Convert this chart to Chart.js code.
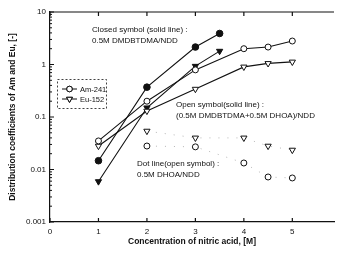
<!DOCTYPE html>
<html lang="en">
<head>
    <meta charset="UTF-8">
    <title>Distribution coefficients</title>
    <script src="https://cdn.jsdelivr.net/npm/chart.js"></script>
    <style>
        body {
            margin: 0;
            background: #fff;
        }
        #wrap {
            width: 339px;
            height: 255px;
        }
    </style>
</head>
<body>
    <div id="wrap"><canvas id="chart" width="339" height="255"></canvas></div>

    <script>
        // values
        const closedX = [1, 2, 3, 3.5];
        const amClosed = [0.0147, 0.37, 2.15, 3.9];
        const euClosed = [0.0059, 0.15, 0.93, 1.8];

        const openX = [1, 2, 3, 4, 4.5, 5];
        const amOpen = [0.035, 0.2, 0.79, 2.0, 2.15, 2.8];
        const euOpen = [0.028, 0.13, 0.34, 0.9, 1.05, 1.12];

        const dotX = [2, 3, 4, 4.5, 5];
        const amDot = [0.028, 0.027, 0.0133, 0.0072, 0.0069];
        const euDot = [0.054, 0.04, 0.04, 0.028, 0.0235];

        const xTicks = [0, 1, 2, 3, 4, 5];
        const yTickValues = [0.001, 0.01, 0.1, 1, 10];
        const yTickLabels = ['0.001', '0.01', '0.1', '1', '10'];

        const FONT = '"Liberation Sans", Arial, sans-serif';
        const INK = '#111';

        const pts = (xs, ys) => xs.map((x, i) => ({ x: x, y: ys[i] }));

        function series(label, xs, ys, style, filled, dotted) {
            return {
                label: label,
                data: pts(xs, ys),
                showLine: true,
                borderColor: dotted ? '#b5b5b5' : INK,
                borderWidth: dotted ? 1 : 1.1,
                borderDash: dotted ? [1, 8] : [],
                pointStyle: style,
                pointRotation: style === 'triangle' ? 180 : 0,
                pointRadius: style === 'triangle' ? 3.6 : (filled ? 3.3 : 3),
                pointBorderColor: INK,
                pointBorderWidth: 1,
                pointBackgroundColor: filled ? INK : '#fff'
            };
        }

        // frame, inward ticks, notes and legend box
        const decor = {
            id: 'decor',
            beforeDatasetsDraw(chart) {
                const { ctx, chartArea: a, scales: { x, y } } = chart;
                ctx.save();
                ctx.strokeStyle = INK;
                ctx.lineWidth = 1.2;
                ctx.beginPath();
                ctx.moveTo(a.left, a.top);
                ctx.lineTo(a.right, a.top);
                xTicks.forEach(v => {
                    const px = x.getPixelForValue(v);
                    ctx.moveTo(px, a.top);
                    ctx.lineTo(px, a.top + 4);
                    ctx.moveTo(px, a.bottom);
                    ctx.lineTo(px, a.bottom - 4);
                });
                ctx.stroke();
                ctx.lineWidth = 1;
                ctx.beginPath();
                for (let e = -3; e <= 1; e++) {
                    for (let m = 1; m < 10; m++) {
                        const v = m * Math.pow(10, e);
                        if (v > 10) break;
                        const py = y.getPixelForValue(v);
                        ctx.moveTo(a.left, py);
                        ctx.lineTo(a.left + (m === 1 ? 4 : 2), py);
                    }
                }
                ctx.stroke();
                ctx.restore();
            },
            afterDatasetsDraw(chart) {
                const ctx = chart.ctx;
                ctx.save();
                ctx.fillStyle = INK;
                ctx.font = '8px ' + FONT;
                ctx.textBaseline = 'middle';
                ctx.fillText('Closed symbol (solid line) :', 92, 30);
                ctx.fillText('0.5M DMDBTDMA/NDD', 92, 41);
                ctx.fillText('Open symbol(solid line) :', 176, 105);
                ctx.fillText('(0.5M DMDBTDMA+0.5M DHOA)/NDD', 176, 116);
                ctx.fillText('Dot line(open symbol) :', 137, 164);
                ctx.fillText('0.5M DHOA/NDD', 137, 175);

                // legend box
                ctx.strokeStyle = INK;
                ctx.lineWidth = 0.8;
                ctx.setLineDash([2, 2]);
                ctx.strokeRect(57.5, 79.5, 49, 29);
                ctx.setLineDash([]);
                ctx.font = '7.5px ' + FONT;
                const rows = [['Am-241', 'circle', 89], ['Eu-152', 'triangle', 99]];
                rows.forEach(([txt, shape, yy]) => {
                    ctx.lineWidth = 1;
                    ctx.beginPath();
                    ctx.moveTo(62, yy);
                    ctx.lineTo(77, yy);
                    ctx.stroke();
                    Chart.helpers.drawPoint(ctx, {
                        pointStyle: shape,
                        radius: shape === 'triangle' ? 3.4 : 2.8,
                        rotation: shape === 'triangle' ? 180 : 0,
                        borderWidth: 1
                    }, 69.5, yy);
                    ctx.fillStyle = '#fff';
                    ctx.fill();
                    ctx.stroke();
                    ctx.fillStyle = INK;
                    ctx.fillText(txt, 80, yy + 0.5);
                });
                ctx.restore();
            }
        };

        new Chart(document.getElementById('chart'), {
            type: 'scatter',
            data: {
                datasets: [
                    series('Am-241 DHOA', dotX, amDot, 'circle', false, true),
                    series('Eu-152 DHOA', dotX, euDot, 'triangle', false, true),
                    series('Am-241 mix', openX, amOpen, 'circle', false, false),
                    series('Eu-152 mix', openX, euOpen, 'triangle', false, false),
                    series('Am-241 DMDBTDMA', closedX, amClosed, 'circle', true, false),
                    series('Eu-152 DMDBTDMA', closedX, euClosed, 'triangle', true, false)
                ]
            },
            options: {
                responsive: false,
                animation: false,
                layout: { padding: { top: 12, right: 0, left: 0, bottom: 0 } },
                plugins: {
                    legend: { display: false },
                    tooltip: { enabled: false }
                },
                scales: {
                    x: {
                        type: 'linear',
                        min: 0,
                        max: 5.86,
                        afterFit: s => { s.height = 33; },
                        afterBuildTicks: s => {
                            s.ticks = xTicks.map(v => ({ value: v }));
                        },
                        grid: { display: true, drawOnChartArea: false, drawTicks: false },
                        border: { display: true, color: INK, width: 1.2 },
                        ticks: {
                            color: INK,
                            padding: 5,
                            font: { family: FONT, size: 8 },
                            callback: v => String(v)
                        },
                        title: {
                            display: true,
                            text: 'Concentration of nitric acid, [M]',
                            color: INK,
                            font: { family: FONT, size: 8.5, weight: 'bold' },
                            padding: { top: 0, bottom: 8 }
                        }
                    },
                    y: {
                        type: 'logarithmic',
                        min: 0.001,
                        max: 10,
                        afterFit: s => { s.width = 50; },
                        afterBuildTicks: s => {
                            s.ticks = yTickValues.map(v => ({ value: v }));
                        },
                        grid: { display: true, drawOnChartArea: false, drawTicks: false },
                        border: { display: true, color: INK, width: 1.2 },
                        ticks: {
                            color: INK,
                            padding: 4,
                            font: { family: FONT, size: 8 },
                            callback: (v, i) => yTickLabels[i]
                        },
                        title: {
                            display: true,
                            text: 'Distribution coefficients of Am and Eu, [-]',
                            color: INK,
                            font: { family: FONT, size: 8.5, weight: 'bold' },
                            padding: { top: 8, bottom: 0 }
                        }
                    }
                }
            },
            plugins: [decor]
        });
    </script>
</body>
</html>
